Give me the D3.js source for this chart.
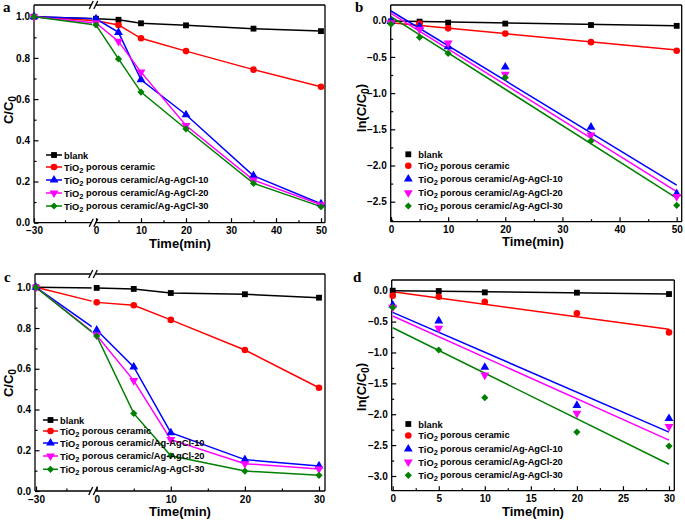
<!DOCTYPE html>
<html><head><meta charset="utf-8">
<script src="https://cdn.jsdelivr.net/npm/d3@7"></script>
<style>
body{margin:0;background:#fff}
svg{display:block}
text{font-family:"Liberation Sans",Arial,sans-serif;font-weight:bold;fill:#000}
</style>
</head><body>
<svg id="chart" width="685" height="521"></svg>
<script>
// ---------- shared series info ----------
const seriesNames = ["blank", "TiO2 porous ceramic", "TiO2 porous ceramic/Ag-AgCl-10",
  "TiO2 porous ceramic/Ag-AgCl-20", "TiO2 porous ceramic/Ag-AgCl-30"];
const seriesColors = ["#000000", "#ff0000", "#0000ff", "#ff00ff", "#008000"];

// ---------- panel a : C/C0 vs time (dark -30..0, then light) ----------
const timeA = [-30, 0, 5, 10, 20, 35, 50];
const blankA = [1.0, 0.99, 0.985, 0.968, 0.958, 0.942, 0.930];
const tio2A  = [1.0, 0.98, 0.96, 0.895, 0.833, 0.743, 0.66];
const ag10A  = [1.0, 0.99, 0.924, 0.694, 0.524, 0.228, 0.092];
const ag20A  = [1.0, 0.97, 0.88, 0.731, 0.472, 0.207, 0.087];
const ag30A  = [1.0, 0.96, 0.795, 0.634, 0.455, 0.191, 0.078];
const xTicksA = [-30, 0, 10, 20, 30, 40, 50];
const xMinorA = [-15, 5, 15, 25, 35, 45];
const yTicksA = [0.0, 0.2, 0.4, 0.6, 0.8, 1.0];
const yMinorA = [0.1, 0.3, 0.5, 0.7, 0.9];

// ---------- panel b : ln(C/C0) vs time with linear fits ----------
const timeB = [0, 5, 10, 20, 35, 50];
const blankB = [-0.01, -0.013, -0.027, -0.04, -0.06, -0.071];
const tio2B  = [-0.02, -0.04, -0.106, -0.178, -0.296, -0.414];
const ag10B  = [-0.01, -0.08, -0.36, -0.64, -1.47, -2.39];
const ag20B  = [-0.03, -0.12, -0.31, -0.74, -1.58, -2.43];
const ag30B  = [-0.046, -0.23, -0.45, -0.785, -1.66, -2.55];
const fitTimeB = [0, 50];
const fitBlankB = [-0.005, -0.07];
const fitTio2B  = [-0.028, -0.405];
const fitAg10B  = [0.134, -2.27];
const fitAg20B  = [0.10, -2.36];
const fitAg30B  = [0.055, -2.45];
const xTicksB = [0, 10, 20, 30, 40, 50];
const xMinorB = [5, 15, 25, 35, 45];
const yTicksB = [0.0, -0.5, -1.0, -1.5, -2.0, -2.5];
const yMinorB = [-0.25, -0.75, -1.25, -1.75, -2.25, -2.75];

// ---------- panel c ----------
const timeC = [-30, 0, 5, 10, 20, 30];
const blankC = [1.0, 0.997, 0.992, 0.972, 0.966, 0.949];
const tio2C  = [1.0, 0.926, 0.912, 0.84, 0.692, 0.507];
const ag10C  = [1.0, 0.79, 0.609, 0.286, 0.154, 0.123];
const ag20C  = [1.0, 0.765, 0.542, 0.252, 0.134, 0.108];
const ag30C  = [1.0, 0.761, 0.381, 0.173, 0.098, 0.077];
const xTicksC = [-30, 0, 10, 20, 30];
const xMinorC = [-15, 5, 15, 25];
const yTicksC = [0.0, 0.2, 0.4, 0.6, 0.8, 1.0];
const yMinorC = [0.1, 0.3, 0.5, 0.7, 0.9];

// ---------- panel d ----------
const timeD = [0, 5, 10, 20, 30];
const blankD = [0.0, -0.005, -0.027, -0.032, -0.054];
const tio2D  = [-0.08, -0.097, -0.178, -0.367, -0.675];
const ag10D  = [-0.232, -0.49, -1.24, -1.856, -2.07];
const ag20D  = [-0.27, -0.61, -1.365, -1.986, -2.2];
const ag30D  = [-0.27, -0.96, -1.732, -2.288, -2.515];
const fitTimeD = [0, 30];
const fitBlankD = [0.0, -0.054];
const fitTio2D  = [-0.016, -0.626];
const fitAg10D  = [-0.35, -2.29];
const fitAg20D  = [-0.41, -2.42];
const fitAg30D  = [-0.60, -2.81];
const xTicksD = [0, 5, 10, 15, 20, 25, 30];
const xMinorD = [2.5, 7.5, 12.5, 17.5, 22.5, 27.5];
const yTicksD = [0.0, -0.5, -1.0, -1.5, -2.0, -2.5, -3.0];
const yMinorD = [-0.25, -0.75, -1.25, -1.75, -2.25, -2.75];

// ---------- drawing ----------
const svg = d3.select("#chart");
const symTypes = [d3.symbolSquare, d3.symbolCircle, d3.symbolTriangle, d3.symbolTriangle, d3.symbolSquare];
const symRot = [0, 0, 0, 180, 45];
const symSize = [34, 34, 34, 34, 26];

function marker(g, cx, cy, i) {
  g.append("path")
    .attr("d", d3.symbol().type(symTypes[i]).size(symSize[i])())
    .attr("transform", `translate(${cx},${cy}) rotate(${symRot[i]})`)
    .attr("fill", seriesColors[i]);
}

// text with subscript: parts = [[str, isSub], ...]
function richText(sel, parts) {
  let sub = false;
  parts.forEach(([s, isSub]) => {
    const t = sel.append("tspan").text(s);
    if (isSub && !sub) { t.attr("dy", "0.3em").attr("font-size", "80%"); sub = true; }
    else if (!isSub && sub) { t.attr("dy", "-0.3em"); sub = false; }
    else if (isSub) t.attr("font-size", "80%");
  });
}
function nameParts(name) {
  if (name.startsWith("TiO2")) return [["TiO", false], ["2", true], [name.slice(4), false]];
  return [[name, false]];
}

let clipId = 0;
function drawPanel(cfg) {
  const g = svg.append("g");
  const b = cfg.box;
  const x = d3.scaleLinear().domain(cfg.xDomain).range(cfg.xRange);
  const y = d3.scaleLinear().domain(cfg.yDomain).range(cfg.yRange);

  // clip for the data lines (with gap at axis break)
  const cid = "clip" + (clipId++);
  const cp = g.append("clipPath").attr("id", cid);
  if (cfg.breakPx) {
    cp.append("rect").attr("x", b.l).attr("y", b.t).attr("width", cfg.breakPx - cfg.gapL - b.l).attr("height", b.b - b.t);
    cp.append("rect").attr("x", cfg.breakPx + cfg.gapR).attr("y", b.t).attr("width", b.r - cfg.breakPx - cfg.gapR).attr("height", b.b - b.t);
  } else {
    cp.append("rect").attr("x", b.l).attr("y", b.t).attr("width", b.r - b.l).attr("height", b.b - b.t);
  }

  // frame
  const fw = 1.3;
  const frame = g.append("g").attr("stroke", "#000").attr("stroke-width", fw).attr("fill", "none");
  frame.append("line").attr("x1", b.l).attr("x2", b.l).attr("y1", b.t).attr("y2", b.b);
  frame.append("line").attr("x1", b.r).attr("x2", b.r).attr("y1", b.t).attr("y2", b.b);
  [b.t, b.b].forEach(yy => {
    if (cfg.breakPx) {
      const xb = cfg.breakPx;
      frame.append("line").attr("x1", b.l).attr("x2", xb - 2.3).attr("y1", yy).attr("y2", yy);
      frame.append("line").attr("x1", xb + 2.3).attr("x2", b.r).attr("y1", yy).attr("y2", yy);
      [xb - 2.3, xb + 2.3].forEach(sx => {
        frame.append("line").attr("x1", sx - 2).attr("y1", yy + 4).attr("x2", sx + 2).attr("y2", yy - 4);
      });
    } else {
      frame.append("line").attr("x1", b.l).attr("x2", b.r).attr("y1", yy).attr("y2", yy);
    }
  });

  // axes (ticks inward)
  const fmtX = d3.format("d");
  const fmtY = d3.format(".1f");
  const xAx = g.append("g").attr("transform", `translate(0,${b.b})`)
    .call(d3.axisBottom(x).tickValues(cfg.xTicks).tickSize(-4.5).tickPadding(4.5).tickFormat(fmtX));
  const xAxm = g.append("g").attr("transform", `translate(0,${b.b})`)
    .call(d3.axisBottom(x).tickValues(cfg.xMinor).tickSize(-2.5).tickFormat(""));
  const yAx = g.append("g").attr("transform", `translate(${b.l},0)`)
    .call(d3.axisLeft(y).tickValues(cfg.yTicks).tickSize(-4.5).tickPadding(4).tickFormat(fmtY));
  const yAxm = g.append("g").attr("transform", `translate(${b.l},0)`)
    .call(d3.axisLeft(y).tickValues(cfg.yMinor).tickSize(-2.5).tickFormat(""));
  [xAx, xAxm, yAx, yAxm].forEach(a => {
    a.select(".domain").remove();
    a.selectAll("line").attr("stroke", "#000").attr("stroke-width", 1.2);
    a.selectAll("text").attr("font-size", 10).attr("font-family", "Liberation Sans, Arial, sans-serif").attr("font-weight", "bold").attr("fill", "#000");
  });

  // series
  const data = g.append("g");
  cfg.series.forEach((vals, i) => {
    const pts = cfg.time.map((t, k) => [x(t), y(vals[k])]);
    if (cfg.connect) {
      data.append("path").attr("d", d3.line()(pts)).attr("fill", "none")
        .attr("stroke", seriesColors[i]).attr("stroke-width", 1.5).attr("clip-path", `url(#${cid})`);
    }
  });
  if (cfg.fits) {
    cfg.fits.forEach((vals, i) => {
      const pts = cfg.fitTime.map((t, k) => [x(t), y(vals[k])]);
      data.append("path").attr("d", d3.line()(pts)).attr("fill", "none")
        .attr("stroke", seriesColors[i]).attr("stroke-width", 1.5);
    });
  }
  cfg.series.forEach((vals, i) => {
    cfg.time.forEach((t, k) => marker(data, x(t), y(vals[k]), i));
  });

  // legend
  const L = cfg.legend;
  seriesNames.forEach((nm, i) => {
    const yy = L.rows[i];
    if (cfg.connect) {
      g.append("line").attr("x1", L.x0).attr("x2", L.x1).attr("y1", yy).attr("y2", yy)
        .attr("stroke", seriesColors[i]).attr("stroke-width", 1.5);
    }
    marker(g, (L.x0 + L.x1) / 2, yy, i);
    const t = g.append("text").attr("x", L.tx).attr("y", yy + 3.5).attr("font-size", 9.3);
    richText(t, nameParts(nm));
  });

  // axis titles
  g.append("text").attr("x", cfg.xTitle[0]).attr("y", cfg.xTitle[1])
    .attr("text-anchor", "middle").attr("font-size", 13).text("Time(min)");
  const yt = g.append("text").attr("transform", `translate(${cfg.yTitle[0]},${cfg.yTitle[1]}) rotate(-90)`)
    .attr("text-anchor", "middle").attr("font-size", 13);
  richText(yt, cfg.yTitleParts);

  // panel letter
  g.append("text").attr("x", cfg.letter[1]).attr("y", cfg.letter[2])
    .style("font-family", "'Liberation Serif','Times New Roman',serif").attr("font-size", 15)
    .text(cfg.letter[0]);
}

drawPanel({
  box: {l: 34, r: 325, t: 5, b: 222.7},
  xDomain: [-30, 0, 50], xRange: [34, 96, 321],
  yDomain: [0, 1], yRange: [222.7, 16.7],
  breakPx: 93.5, gapL: 1.2, gapR: 1.8,
  xTicks: xTicksA, xMinor: xMinorA, yTicks: yTicksA, yMinor: yMinorA,
  time: timeA, series: [blankA, tio2A, ag10A, ag20A, ag30A], connect: true,
  legend: {x0: 46, x1: 62, tx: 64, rows: [155, 167, 180, 193, 206]},
  xTitle: [180, 248], yTitle: [13, 110], yTitleParts: [["C/C", false], ["0", true]],
  letter: ["a", 3, 12]
});
drawPanel({
  box: {l: 390.7, r: 681.7, t: 5, b: 221.7},
  xDomain: [0, 50], xRange: [391, 676.7],
  yDomain: [0, -2.5], yRange: [20.7, 201.7],
  xTicks: xTicksB, xMinor: xMinorB, yTicks: yTicksB, yMinor: yMinorB,
  time: timeB, series: [blankB, tio2B, ag10B, ag20B, ag30B], connect: false,
  fitTime: fitTimeB, fits: [fitBlankB, fitTio2B, fitAg10B, fitAg20B, fitAg30B],
  legend: {x0: 404, x1: 412.6, tx: 418.3, rows: [154.3, 165.7, 179, 192.7, 206]},
  xTitle: [533, 246], yTitle: [366, 108], yTitleParts: [["ln(C/C", false], ["0", true], [")", false]],
  letter: ["b", 355, 12]
});
drawPanel({
  box: {l: 35, r: 325, t: 274, b: 491},
  xDomain: [-30, 0, 30], xRange: [36, 96.7, 319],
  yDomain: [0, 1], yRange: [491, 287.3],
  breakPx: 93, gapL: 1.3, gapR: 3,
  xTicks: xTicksC, xMinor: xMinorC, yTicks: yTicksC, yMinor: yMinorC,
  time: timeC, series: [blankC, tio2C, ag10C, ag20C, ag30C], connect: true,
  legend: {x0: 43, x1: 58, tx: 60, rows: [420, 431, 443, 456, 469.3]},
  xTitle: [180, 516], yTitle: [13, 383], yTitleParts: [["C/C", false], ["0", true]],
  letter: ["c", 4, 282]
});
drawPanel({
  box: {l: 391.7, r: 674.3, t: 280, b: 490.7},
  xDomain: [0, 30], xRange: [392.7, 669],
  yDomain: [0, -3], yRange: [290.7, 476],
  xTicks: xTicksD, xMinor: xMinorD, yTicks: yTicksD, yMinor: yMinorD,
  time: timeD, series: [blankD, tio2D, ag10D, ag20D, ag30D], connect: false,
  fitTime: fitTimeD, fits: [fitBlankD, fitTio2D, fitAg10D, fitAg20D, fitAg30D],
  legend: {x0: 404, x1: 412.6, tx: 418.3, rows: [424, 435.5, 449, 462, 475.3]},
  xTitle: [533, 516], yTitle: [366, 387], yTitleParts: [["ln(C/C", false], ["0", true], [")", false]],
  letter: ["d", 353, 282]
});
</script>
</body></html>
